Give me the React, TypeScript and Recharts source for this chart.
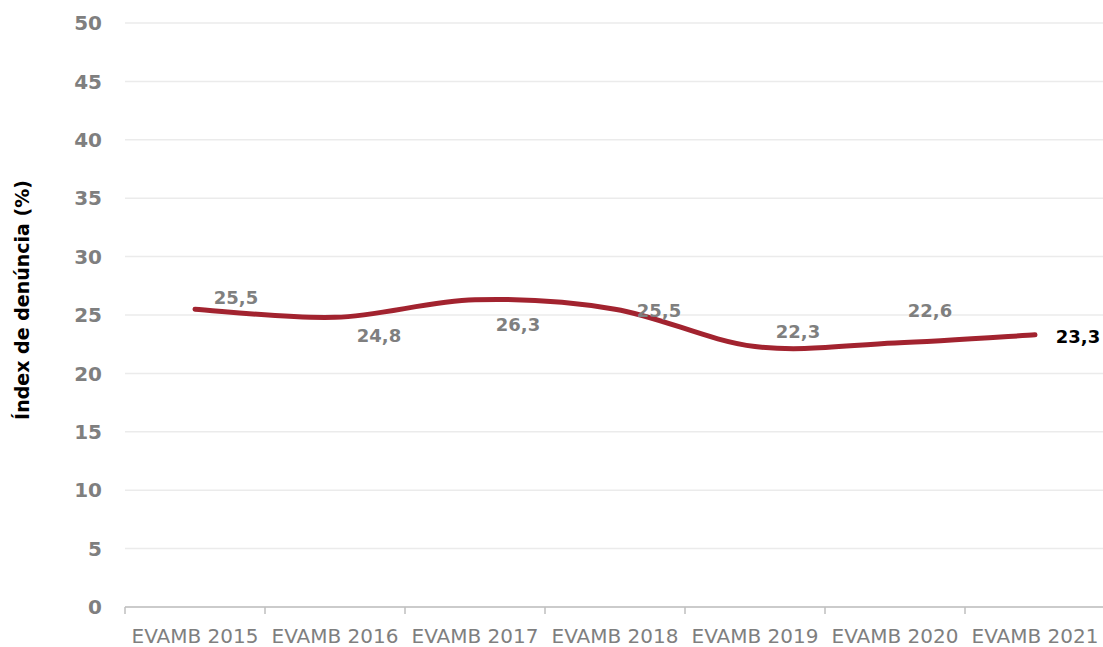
import { LineChart, Line, XAxis, YAxis, CartesianGrid, LabelList } from 'recharts'

const years = ['EVAMB 2015', 'EVAMB 2016', 'EVAMB 2017', 'EVAMB 2018', 'EVAMB 2019', 'EVAMB 2020', 'EVAMB 2021']
const index = [25.5, 24.8, 26.3, 25.5, 22.3, 22.6, 23.3]
const yTicks = [0, 5, 10, 15, 20, 25, 30, 35, 40, 45, 50]

const data = years.map((year, i) => ({ year, value: index[i] }))

const FONT = '"DejaVu Sans", Lato, sans-serif'
const WIDTH = 1105
const HEIGHT = 647
const LEFT = 125
const BAND = (WIDTH - LEFT) / years.length

// label nudges (dx, dy of text centre from the point), as placed in the original chart
const labelShift = [
  [41, -12],
  [44, 18],
  [43, 25],
  [44, 1],
  [43, -15],
  [35, -33],
  [43, 2],
]

const fmt = (v: number) => v.toFixed(1).replace('.', ',')

// Excel-style smoothed line (Catmull-Rom through the points)
const excelSmooth = (context: any) => {
  let pts: [number, number][] = []
  return {
    areaStart() {},
    areaEnd() {},
    lineStart() {
      pts = []
    },
    point(x: number, y: number) {
      pts.push([+x, +y])
    },
    lineEnd() {
      if (!pts.length) return
      context.moveTo(pts[0][0], pts[0][1])
      for (let i = 0; i < pts.length - 1; i++) {
        const p0 = pts[Math.max(i - 1, 0)]
        const p1 = pts[i]
        const p2 = pts[i + 1]
        const p3 = pts[Math.min(i + 2, pts.length - 1)]
        context.bezierCurveTo(
          p1[0] + (p2[0] - p0[0]) / 6,
          p1[1] + (p2[1] - p0[1]) / 6,
          p2[0] - (p3[0] - p1[0]) / 6,
          p2[1] - (p3[1] - p1[1]) / 6,
          p2[0],
          p2[1]
        )
      }
    },
  }
}

const XTick = (props: any) => {
  const { x, y, payload } = props
  return (
    <g>
      <line x1={x - BAND / 2} x2={x - BAND / 2} y1={y} y2={y + 7} stroke="#bfbfbf" strokeWidth={1.5} />
      <text x={x} y={y + 36} textAnchor="middle" fill="#7f7f7f" fontSize={20} fontFamily={FONT}>
        {payload.value}
      </text>
    </g>
  )
}

const ValueLabel = (props: any) => {
  const { x, y, value, index: i } = props
  const [dx, dy] = labelShift[i]
  const last = i === years.length - 1
  return (
    <text
      x={x + dx}
      y={y + dy}
      textAnchor="middle"
      dominantBaseline="central"
      fill={last ? '#000000' : '#7f7f7f'}
      fontSize={18}
      fontWeight="bold"
      fontFamily={FONT}
    >
      {fmt(value)}
    </text>
  )
}

export default function App() {
  return (
    <div style={{ position: 'absolute', left: 0, top: 0, width: 1103, height: HEIGHT, overflow: 'hidden', background: '#fff' }}>
      <LineChart width={WIDTH} height={HEIGHT} data={data} margin={{ top: 23, right: 0, left: 0, bottom: 0 }}>
        <CartesianGrid vertical={false} stroke="#ebebeb" strokeWidth={1.5} />
        <XAxis
          dataKey="year"
          height={40}
          padding={{ left: BAND / 2, right: BAND / 2 }}
          axisLine={{ stroke: '#bfbfbf', strokeWidth: 1.5 }}
          tickLine={false}
          tickSize={0}
          tickMargin={0}
          interval={0}
          tick={<XTick />}
        />
        <YAxis
          width={LEFT}
          domain={[0, 50]}
          ticks={yTicks}
          interval={0}
          axisLine={false}
          tickLine={false}
          tickSize={0}
          tickMargin={23}
          tick={{ fill: '#7f7f7f', fontSize: 20, fontWeight: 'bold', fontFamily: FONT }}
          label={{
            content: (p: any) => {
              const vb = p.viewBox
              const cy = vb.y + vb.height / 2 - 15
              return (
                <text
                  x={22}
                  y={cy}
                  transform={`rotate(-90 22 ${cy})`}
                  textAnchor="middle"
                  dominantBaseline="central"
                  fill="#000"
                  fontSize={19}
                  fontWeight="bold"
                  fontFamily={FONT}
                >
                  Índex de denúncia (%)
                </text>
              )
            },
          }}
        />
        <Line
          type={excelSmooth as any}
          dataKey="value"
          stroke="#a2232f"
          strokeWidth={5}
          strokeLinecap="round"
          dot={false}
          isAnimationActive={false}
        >
          <LabelList dataKey="value" content={<ValueLabel />} />
        </Line>
      </LineChart>
    </div>
  )
}
